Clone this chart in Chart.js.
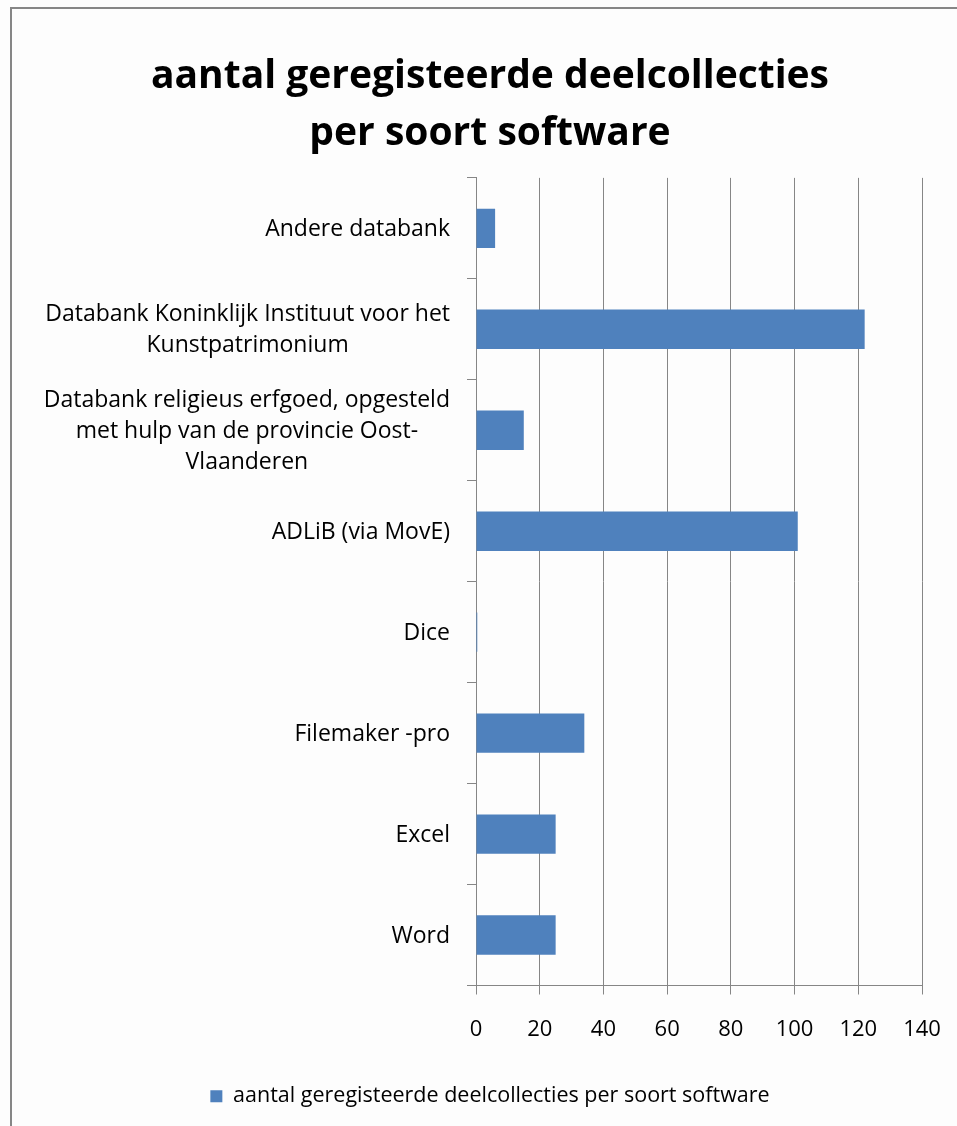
<!DOCTYPE html>
<html>
<head>
<meta charset="utf-8">
<title>aantal geregisteerde deelcollecties per soort software</title>
<script src="https://cdn.jsdelivr.net/npm/chart.js@4.4.1/dist/chart.umd.min.js"></script>
<style>
  html, body { margin: 0; padding: 0; background: #fff; }
  #wrap { width: 957px; height: 1126px; }
</style>
</head>
<body>
<div id="wrap"><canvas id="chart" width="957" height="1126"></canvas></div>
<script>
// categories, top to bottom (multi-line labels as in the original)
const categories = [
  ['Andere databank'],
  ['Databank Koninklijk Instituut voor het', 'Kunstpatrimonium'],
  ['Databank religieus erfgoed, opgesteld', 'met hulp van de provincie Oost-', 'Vlaanderen'],
  ['ADLiB (via MovE)'],
  ['Dice'],
  ['Filemaker -pro'],
  ['Excel'],
  ['Word']
];
const values = [6, 122, 15, 101, 0.4, 34, 25, 25];
const xMin = 0;
const xMax = 140;
const xStep = 20;
const seriesName = 'aantal geregisteerde deelcollecties per soort software';
const titleLines = ['aantal geregisteerde deelcollecties', 'per soort software'];

const FONT = '"Open Sans"';
const GRID = '#868686';
const BAR = '#4F81BD';

// white background + the grey frame of the original chart object
const framePlugin = {
  id: 'frame',
  beforeDraw(chart) {
    const ctx = chart.ctx;
    ctx.save();
    ctx.fillStyle = '#fdfdfd';
    ctx.fillRect(0, 0, chart.width, chart.height);
    ctx.strokeStyle = GRID;
    ctx.lineWidth = 2;
    ctx.beginPath();
    ctx.moveTo(11, chart.height);
    ctx.lineTo(11, 8);
    ctx.lineTo(chart.width, 8);
    ctx.stroke();
    ctx.restore();
  }
};

// category labels: each block right aligned, lines centred inside the block
const catLabels = {
  id: 'catLabels',
  afterDraw(chart) {
    const ctx = chart.ctx;
    const sy = chart.scales.y;
    const right = chart.chartArea.left - 26;
    const lineH = 31;
    ctx.save();
    ctx.font = '23px ' + FONT;
    ctx.fillStyle = '#000';
    ctx.textAlign = 'center';
    ctx.textBaseline = 'middle';
    chart.data.labels.forEach((lines, i) => {
      const yc = sy.getPixelForValue(i) + 1;
      const w = Math.max(...lines.map(l => ctx.measureText(l).width));
      const cx = right - w / 2;
      lines.forEach((l, j) => {
        ctx.fillText(l, cx, yc + (j - (lines.length - 1) / 2) * lineH);
      });
    });
    ctx.restore();
  }
};

new Chart(document.getElementById('chart'), {
  type: 'bar',
  data: {
    labels: categories,
    datasets: [{
      label: seriesName,
      data: values,
      backgroundColor: BAR,
      borderWidth: 0,
      categoryPercentage: 0.39,
      barPercentage: 1
    }]
  },
  options: {
    indexAxis: 'y',
    responsive: false,
    animation: false,
    layout: { padding: { left: 23, right: 0, top: 0, bottom: 9 } },
    plugins: {
      title: {
        display: true,
        text: titleLines,
        color: '#000',
        font: { family: FONT, size: 39, weight: 'bold', lineHeight: 1.46 },
        padding: { top: 48, bottom: 16 }
      },
      legend: {
        position: 'bottom',
        labels: {
          color: '#000',
          font: { family: FONT, size: 21.5 },
          boxWidth: 12,
          boxHeight: 12,
          padding: 10
        }
      },
      tooltip: { enabled: false }
    },
    scales: {
      x: {
        type: 'linear',
        min: xMin,
        max: xMax,
        ticks: {
          stepSize: xStep,
          color: '#000',
          font: { family: FONT, size: 22 },
          padding: 22
        },
        grid: { color: GRID, lineWidth: 1, tickLength: 9, drawTicks: true },
        border: { display: true, color: GRID, width: 1 },
        afterFit(scale) {
          scale.height = 90;
          scale.paddingRight = 35;
          scale.paddingLeft = 0;
        }
      },
      y: {
        type: 'category',
        offset: true,
        ticks: { display: false },
        grid: { display: true, offset: true, drawOnChartArea: false, drawTicks: true, tickLength: 9, color: GRID, lineWidth: 1 },
        border: { display: true, color: GRID, width: 1 },
        afterFit(scale) {
          scale.width = 476 - 23;
        }
      }
    }
  },
  plugins: [framePlugin, catLabels]
});
</script>
</body>
</html>
